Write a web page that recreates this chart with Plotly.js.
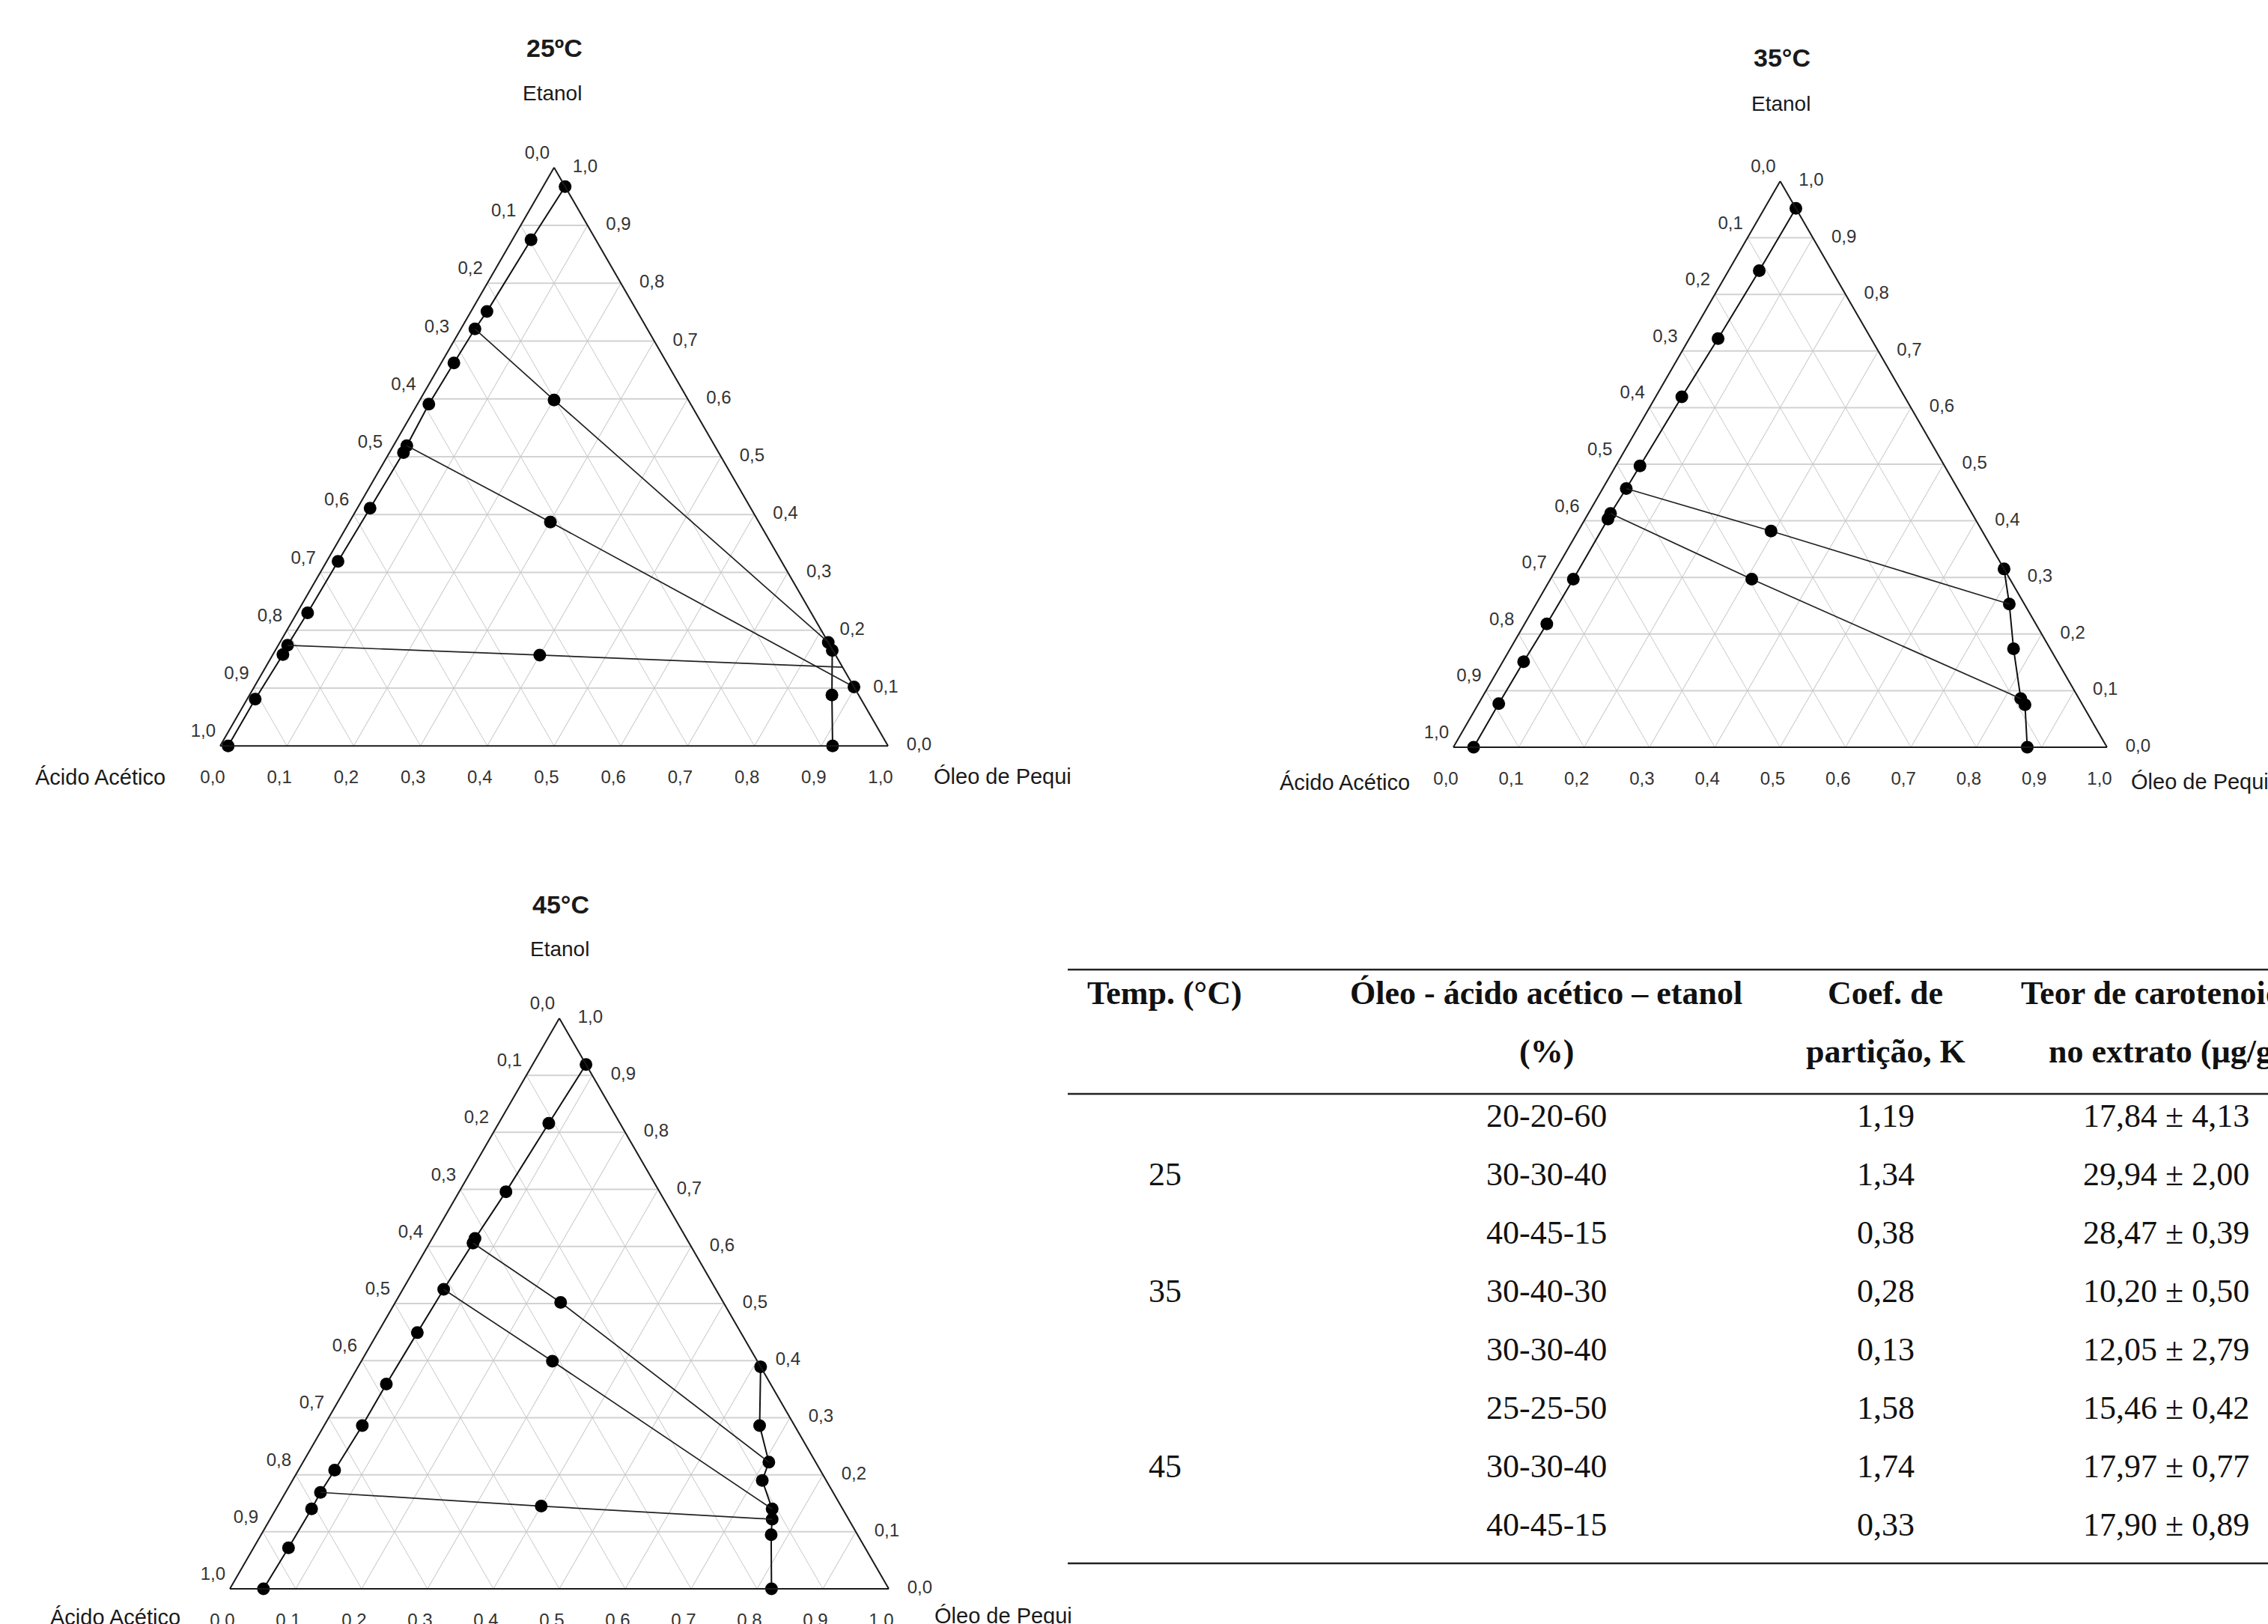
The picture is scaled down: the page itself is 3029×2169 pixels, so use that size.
<!DOCTYPE html>
<html>
<head>
<meta charset="utf-8">
<script src="https://cdn.plot.ly/plotly-3.0.1.min.js"></script>
<style>
  html, body { margin: 0; padding: 0; background: #ffffff; }
  #chart { width: 3029px; height: 2169px; }
</style>
</head>
<body>
<div id="chart"></div>
<script>
// ---------------- DATA ----------------
const tickVals = [0, 0.1, 0.2, 0.3, 0.4, 0.5, 0.6, 0.7, 0.8, 0.9, 1.0];
const tickText = ['0,0', '0,1', '0,2', '0,3', '0,4', '0,5', '0,6', '0,7', '0,8', '0,9', '1,0'];

// 25 ºC — fase rica em etanol / ácido (ramo esquerdo)
const fe25_etanol = [0.000, 0.081, 0.158, 0.174, 0.230, 0.319, 0.411, 0.507, 0.519, 0.591, 0.662, 0.721, 0.751, 0.875, 0.967];
const fe25_acido  = [0.988, 0.907, 0.827, 0.812, 0.754, 0.664, 0.570, 0.472, 0.461, 0.392, 0.319, 0.258, 0.225, 0.097, 0.000];
const fe25_oleo   = [0.012, 0.012, 0.015, 0.014, 0.016, 0.017, 0.019, 0.021, 0.020, 0.017, 0.019, 0.021, 0.024, 0.028, 0.033];
// 25 ºC — fase oleosa
const fo25_etanol = [0.179, 0.165, 0.088, 0.000];
const fo25_acido  = [0.000, 0.001, 0.040, 0.083];
const fo25_oleo   = [0.821, 0.834, 0.872, 0.917];
// 25 ºC — pontos isolados
const px25_etanol = [0.102];
const px25_acido  = [0.000];
const px25_oleo   = [0.898];
// 25 ºC — linhas de amarração (extrato, mistura, rafinado)
const tie25_etanol = [[0.721, 0.598, 0.179], [0.519, 0.387, 0.102], [0.174, 0.157, 0.136]];
const tie25_acido  = [[0.258, 0.201, 0.000], [0.461, 0.312, 0.000], [0.812, 0.443, 0.000]];
const tie25_oleo   = [[0.021, 0.201, 0.821], [0.020, 0.301, 0.898], [0.014, 0.400, 0.864]];

// 35 °C
const fe35_etanol = [0.000, 0.077, 0.151, 0.218, 0.297, 0.403, 0.413, 0.457, 0.497, 0.619, 0.722, 0.842, 0.952];
const fe35_acido  = [0.969, 0.892, 0.817, 0.748, 0.668, 0.562, 0.553, 0.507, 0.466, 0.341, 0.234, 0.111, 0.000];
const fe35_oleo   = [0.031, 0.031, 0.032, 0.034, 0.035, 0.035, 0.034, 0.036, 0.037, 0.040, 0.044, 0.047, 0.048];
const fo35_etanol = [0.315, 0.253, 0.174, 0.086, 0.075, 0.000];
const fo35_acido  = [0.000, 0.023, 0.056, 0.089, 0.088, 0.122];
const fo35_oleo   = [0.685, 0.724, 0.770, 0.825, 0.837, 0.878];
const tie35_etanol = [[0.457, 0.382, 0.253], [0.413, 0.297, 0.086]];
const tie35_acido  = [[0.507, 0.323, 0.023], [0.553, 0.395, 0.089]];
const tie35_oleo   = [[0.036, 0.295, 0.724], [0.034, 0.308, 0.825]];

// 45 °C
const fe45_etanol = [0.000, 0.072, 0.140, 0.169, 0.208, 0.286, 0.359, 0.449, 0.525, 0.606, 0.614, 0.696, 0.816, 0.919];
const fe45_acido  = [0.949, 0.875, 0.806, 0.778, 0.737, 0.656, 0.583, 0.491, 0.413, 0.328, 0.321, 0.233, 0.108, 0.000];
const fe45_oleo   = [0.051, 0.053, 0.054, 0.053, 0.055, 0.058, 0.058, 0.060, 0.062, 0.066, 0.065, 0.071, 0.076, 0.081];
const fo45_etanol = [0.389, 0.286, 0.222, 0.190, 0.140, 0.122, 0.095, 0.000];
const fo45_acido  = [0.000, 0.053, 0.071, 0.097, 0.107, 0.116, 0.131, 0.178];
const fo45_oleo   = [0.611, 0.661, 0.707, 0.713, 0.753, 0.762, 0.774, 0.822];
const tie45_etanol = [[0.606, 0.502, 0.222], [0.525, 0.399, 0.140], [0.169, 0.145, 0.122]];
const tie45_acido  = [[0.328, 0.247, 0.071], [0.413, 0.311, 0.107], [0.778, 0.455, 0.116]];
const tie45_oleo   = [[0.066, 0.251, 0.707], [0.062, 0.290, 0.753], [0.053, 0.400, 0.762]];

// Tabela
const tabHeader1 = ['Temp. (°C)', 'Óleo - ácido acético – etanol', 'Coef. de', 'Teor de carotenoides'];
const tabHeader2 = ['', '(%)', 'partição, K', 'no extrato (µg/g)'];
const tabTemp    = ['', '25', '', '35', '', '', '45', ''];
const tabMistura = ['20-20-60', '30-30-40', '40-45-15', '30-40-30', '30-30-40', '25-25-50', '30-30-40', '40-45-15'];
const tabK       = ['1,19', '1,34', '0,38', '0,28', '0,13', '1,58', '1,74', '0,33'];
const tabTeor    = ['17,84 ± 4,13', '29,94 ± 2,00', '28,47 ± 0,39', '10,20 ± 0,50', '12,05 ± 2,79', '15,46 ± 0,42', '17,97 ± 0,77', '17,90 ± 0,89'];

// ---------------- LAYOUT HELPERS ----------------
const W = 3029, H = 2169;
const fx = (x) => x / W;
const fy = (y) => 1 - y / H;
const SANS = 'Liberation Sans, Arial, sans-serif';
const SERIF = 'Liberation Serif, Times New Roman, serif';
const DOT = 17;

function ternaryLayout(cx, cy, w) {
  const h = w * Math.sqrt(3) / 2;
  const axis = (gw, gc) => ({
    min: 0, showline: true, linecolor: '#1a1a1a', linewidth: 2,
    showgrid: true, gridcolor: gc, gridwidth: gw,
    tickmode: 'linear', tick0: 0, dtick: 0.1,
    ticks: '', showticklabels: false, title: {text: ''}
  });
  return {
    sum: 1, bgcolor: '#ffffff',
    domain: {x: [(cx - w / 2) / W, (cx + w / 2) / W], y: [(H - (cy + h / 2)) / H, (H - (cy - h / 2)) / H]},
    aaxis: axis(2.2, '#d2d2d2'),
    baxis: axis(1.4, '#c8c8c8'),
    caxis: axis(1.4, '#c8c8c8')
  };
}

function tickTraces(sub) {
  const d = 0.013;
  const aL = [], bL = [], cL = [], aR = [], bR = [], cR = [], aB = [], bB = [], cB = [];
  tickVals.forEach(v => {
    // ácido acético (lado esquerdo)
    aL.push(1 - v, 1 - v + d, null); bL.push(v, v, null); cL.push(0, -d, null);
    // etanol (lado direito)
    aR.push(v, v, null); bR.push(0, -d, null); cR.push(1 - v, 1 - v + d, null);
    // óleo (base)
    aB.push(0, -d, null); bB.push(1 - v, 1 - v + d, null); cB.push(v, v, null);
  });
  const tk = (a, b, c) => ({type: 'scatterternary', subplot: sub, mode: 'lines', a: a, b: b, c: c,
    line: {color: '#333', width: 1.5}, cliponaxis: false, hoverinfo: 'skip', showlegend: false});
  const lab = (a, b, c, pos, size, txt) => ({type: 'scatterternary', subplot: sub, mode: 'markers+text',
    a: a, b: b, c: c, text: txt, textposition: pos,
    marker: {size: size, color: 'rgba(0,0,0,0)'},
    textfont: {family: SANS, size: 24, color: '#333'},
    cliponaxis: false, hoverinfo: 'skip', showlegend: false});
  const padded = tickText.map(t => t + '\u00a0\u00a0\u00a0');
  return [
    tk(aL, bL, cL), tk(aR, bR, cR), tk(aB, bB, cB),
    lab(tickVals.map(v => 1 - v), tickVals, tickVals.map(() => 0), 'top left', 8, tickText),
    lab(tickVals, tickVals.map(() => 0), tickVals.map(v => 1 - v), 'middle right', 38, tickText),
    lab(tickVals.map(() => 0), tickVals.map(v => 1 - v), tickVals, 'bottom center', 50, padded)
  ];
}

function dataTraces(sub, fe, fo, tie, extra) {
  const curve = (e, ac, o) => ({type: 'scatterternary', subplot: sub, mode: 'lines+markers',
    a: e, b: ac, c: o, line: {color: '#111', width: 2},
    marker: {color: '#000', size: DOT}, showlegend: false, cliponaxis: false,
    hovertemplate: 'Etanol %{a:.3f}<br>Ácido %{b:.3f}<br>Óleo %{c:.3f}<extra></extra>'});
  const out = [curve(fe[0], fe[1], fe[2]), curve(fo[0], fo[1], fo[2])];
  for (let i = 0; i < tie[0].length; i++) {
    out.push({type: 'scatterternary', subplot: sub, mode: 'lines',
      a: tie[0][i], b: tie[1][i], c: tie[2][i], line: {color: '#222', width: 1.7},
      showlegend: false, hoverinfo: 'skip', cliponaxis: false});
  }
  out.push({type: 'scatterternary', subplot: sub, mode: 'markers',
    a: tie[0].map(t => t[1]), b: tie[1].map(t => t[1]), c: tie[2].map(t => t[1]),
    marker: {color: '#000', size: DOT}, showlegend: false, cliponaxis: false,
    hovertemplate: 'Mistura<br>Etanol %{a:.2f}<br>Ácido %{b:.2f}<br>Óleo %{c:.2f}<extra></extra>'});
  if (extra) {
    out.push({type: 'scatterternary', subplot: sub, mode: 'markers',
      a: extra[0], b: extra[1], c: extra[2], marker: {color: '#000', size: DOT},
      showlegend: false, cliponaxis: false});
  }
  return out;
}

const traces = [].concat(
  tickTraces('ternary'),
  dataTraces('ternary', [fe25_etanol, fe25_acido, fe25_oleo], [fo25_etanol, fo25_acido, fo25_oleo],
             [tie25_etanol, tie25_acido, tie25_oleo], [px25_etanol, px25_acido, px25_oleo]),
  tickTraces('ternary2'),
  dataTraces('ternary2', [fe35_etanol, fe35_acido, fe35_oleo], [fo35_etanol, fo35_acido, fo35_oleo],
             [tie35_etanol, tie35_acido, tie35_oleo], null),
  tickTraces('ternary3'),
  dataTraces('ternary3', [fe45_etanol, fe45_acido, fe45_oleo], [fo45_etanol, fo45_acido, fo45_oleo],
             [tie45_etanol, tie45_acido, tie45_oleo], null)
);

// ---------------- ANNOTATIONS ----------------
const ann = [];
function txt(x, y, text, size, family, anchor, color) {
  ann.push({xref: 'paper', yref: 'paper', x: fx(x), y: fy(y), text: text, showarrow: false,
    xanchor: anchor || 'center', yanchor: 'middle',
    font: {family: family || SANS, size: size, color: color || '#1a1a1a'}});
}
// 25 ºC
txt(740, 64, '<b>25ºC</b>', 34);
txt(737, 124, 'Etanol', 28);
txt(134, 1038, 'Ácido Acético', 29);
txt(1339, 1037, 'Óleo de Pequi', 29);
// 35 °C
txt(2380, 77, '<b>35°C</b>', 34);
txt(2378, 138, 'Etanol', 28);
txt(1796, 1045, 'Ácido Acético', 29);
txt(2844, 1044, 'Óleo de Pequi', 29, SANS, 'left');
// 45 °C
txt(749, 1208, '<b>45°C</b>', 34);
txt(747, 1267, 'Etanol', 28);
txt(154, 2160, 'Ácido Acético', 29);
txt(1340, 2158, 'Óleo de Pequi', 29);

// Tabela
const colX = [1556, 2065, 2518, 2893];
for (let j = 0; j < 4; j++) {
  txt(colX[j], 1326, '<b>' + tabHeader1[j] + '</b>', 44, SERIF, 'center', '#111');
  if (tabHeader2[j]) txt(colX[j], 1404, '<b>' + tabHeader2[j] + '</b>', 44, SERIF, 'center', '#111');
}
const rowY0 = 1490, rowStep = 78;
for (let i = 0; i < tabMistura.length; i++) {
  const y = rowY0 + i * rowStep;
  if (tabTemp[i]) txt(colX[0], y, tabTemp[i], 44, SERIF, 'center', '#111');
  txt(colX[1], y, tabMistura[i], 44, SERIF, 'center', '#111');
  txt(colX[2], y, tabK[i], 44, SERIF, 'center', '#111');
  txt(colX[3], y, tabTeor[i], 44, SERIF, 'center', '#111');
}

const rule = (y) => ({type: 'line', xref: 'paper', yref: 'paper', x0: fx(1426), x1: 1.02,
  y0: fy(y), y1: fy(y), line: {color: '#222', width: 2.6}});

const layout = {
  width: W, height: H,
  margin: {l: 0, r: 0, t: 0, b: 0},
  paper_bgcolor: '#ffffff',
  showlegend: false,
  ternary: ternaryLayout(740, 610, 892),
  ternary2: ternaryLayout(2377.5, 620, 873),
  ternary3: ternaryLayout(747, 1741, 880),
  annotations: ann,
  shapes: [rule(1295), rule(1461), rule(2088)]
};

Plotly.newPlot('chart', traces, layout, {displayModeBar: false, responsive: false});
</script>
</body>
</html>
